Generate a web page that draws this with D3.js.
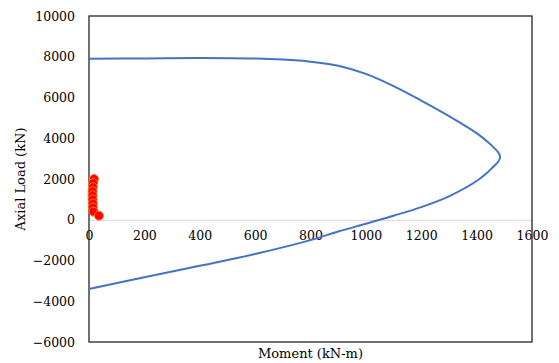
<!DOCTYPE html>
<html>
<head>
<meta charset="utf-8">
<script src="https://cdn.jsdelivr.net/npm/d3@7"></script>
<style>
  html, body { margin: 0; padding: 0; background: #fff; }
  svg { display: block; }
</style>
</head>
<body>
<svg id="chart" width="559" height="363"></svg>
<script>
// Interaction diagram (capacity curve), moment in kN-m vs axial load in kN
const capacityMoment = [0, 200, 400, 600, 700, 800, 900, 1000, 1100, 1200, 1300, 1400, 1450, 1478, 1485,
                        1478, 1460, 1440, 1400, 1300, 1200, 1100, 1050, 1000, 900, 800, 600, 400, 200, 0];
const capacityAxial  = [7900, 7920, 7935, 7910, 7860, 7760, 7560, 7160, 6560, 5850, 5090, 4250, 3700, 3300, 3080,
                        2850, 2600, 2330, 1900, 1150, 620, 200, 0, -200, -580, -1000, -1680, -2260, -2820, -3400];

// Applied load demands
const demandMoment = [18, 15, 14, 13, 13, 13, 14, 14, 16, 36];
const demandAxial  = [2000, 1800, 1600, 1400, 1200, 1000, 800, 600, 400, 200];

const xTicks = [0, 200, 400, 600, 800, 1000, 1200, 1400, 1600];
const yTicks = [-6000, -4000, -2000, 0, 2000, 4000, 6000, 8000, 10000];

const FONT = "'DejaVu Serif', serif";

const svg = d3.select("#chart");
const plot = { left: 89, right: 532, top: 16, bottom: 342 };

const x = d3.scaleLinear().domain([0, 1600]).range([plot.left, plot.right]);
const y = d3.scaleLinear().domain([-6000, 10000]).range([plot.bottom, plot.top]);

// zero line with moment labels
const xAxis = svg.append("g")
  .attr("transform", `translate(0,${y(0)})`)
  .call(d3.axisBottom(x).tickValues(xTicks).tickSize(0).tickPadding(11).tickFormat(d3.format("d")));
xAxis.attr("font-family", null).attr("font-size", null);
xAxis.select(".domain").attr("stroke", "#d9d9d9").attr("stroke-width", 1.2);
xAxis.selectAll("text").style("font-family", FONT).style("font-size", "12.5px").attr("fill", "#000");

// axial load labels
const yAxis = svg.append("g")
  .attr("transform", `translate(${plot.left},0)`)
  .call(d3.axisLeft(y).tickValues(yTicks).tickSize(0).tickPadding(14).tickFormat(d3.format("d")));
yAxis.attr("font-family", null).attr("font-size", null);
yAxis.select(".domain").remove();
yAxis.selectAll("text").style("font-family", FONT).style("font-size", "12.5px").attr("fill", "#000");

// plot frame
svg.append("rect")
  .attr("x", plot.left).attr("y", plot.top)
  .attr("width", plot.right - plot.left).attr("height", plot.bottom - plot.top)
  .attr("fill", "none").attr("stroke", "#262626").attr("stroke-width", 1.3);

// capacity curve
const capacity = capacityMoment.map((m, i) => [m, capacityAxial[i]]);
svg.append("path")
  .datum(capacity)
  .attr("fill", "none")
  .attr("stroke", "#4472C4")
  .attr("stroke-width", 2)
  .attr("d", d3.line().x(d => x(d[0])).y(d => y(d[1])).curve(d3.curveCatmullRom.alpha(0.5)));

// demand points
svg.append("g").selectAll("circle")
  .data(demandMoment.map((m, i) => [m, demandAxial[i]]))
  .join("circle")
  .attr("cx", d => x(d[0]))
  .attr("cy", d => y(d[1]))
  .attr("r", 4.5)
  .attr("fill", "#ff0000")
  .attr("stroke", "#ff7a1a")
  .attr("stroke-width", 1);

// axis titles
svg.append("text")
  .attr("x", (plot.left + plot.right) / 2).attr("y", 358)
  .attr("text-anchor", "middle")
  .style("font-family", FONT).style("font-size", "13px")
  .text("Moment (kN-m)");

svg.append("text")
  .attr("transform", `translate(25,${(plot.top + plot.bottom) / 2}) rotate(-90)`)
  .attr("text-anchor", "middle")
  .style("font-family", FONT).style("font-size", "13px")
  .text("Axial Load (kN)");
</script>
</body>
</html>
